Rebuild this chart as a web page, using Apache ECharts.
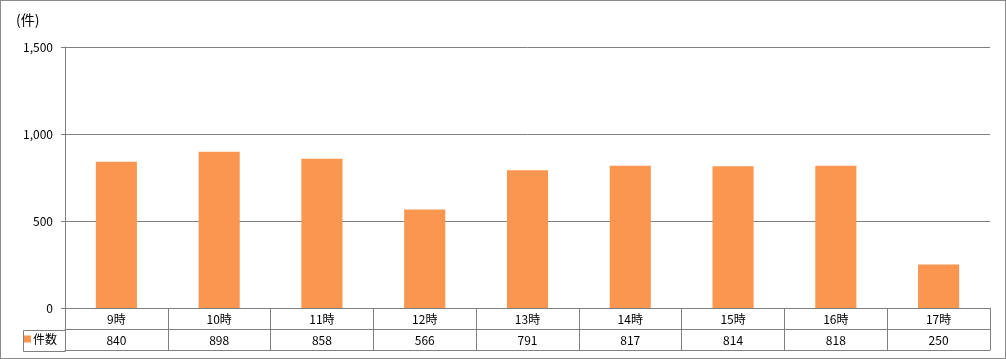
<!DOCTYPE html>
<html><head><meta charset="utf-8">
<script src="https://cdn.jsdelivr.net/npm/echarts@6/dist/echarts.min.js"></script>
<style>
html,body{margin:0;padding:0;background:#fff;}
#c{width:1004px;height:357px;border:1px solid #8a8a8a;}
</style></head><body>
<div id="c"></div>
<script>
const categories = ['9時','10時','11時','12時','13時','14時','15時','16時','17時'];
const counts = [840, 898, 858, 566, 791, 817, 814, 818, 250];
const seriesName = '件数';
const yTicks = [0, 500, 1000, 1500];

const font = '"Noto Sans CJK JP", "Liberation Sans", sans-serif';
const chart = echarts.init(document.getElementById('c'));
chart.setOption({
  animation: false,
  textStyle: {fontFamily: font},
  title: {text: '(件)', left: 10, top: 7, textStyle: {fontSize: 14, fontWeight: 'normal', color: '#000', fontFamily: font}},
  legend: {data: [seriesName], left: 23, top: 332, icon: 'rect', itemWidth: 7, itemHeight: 7, itemGap: 2,
    textStyle: {fontSize: 12, color: '#000', padding: [0,0,0,-3]}, padding: 0},
  grid: {left: 64, right: 15, top: 46, bottom: 50},
  xAxis: [
    {type: 'category', data: categories, position: 'bottom',
     axisLine: {lineStyle: {color: '#808080'}},
     axisTick: {show: true, length: 42, lineStyle: {color: '#808080'}},
     axisLabel: {color: '#000', fontSize: 12, margin: 5}},
    {type: 'category', data: counts.map(String), position: 'bottom', offset: 21,
     axisLine: {lineStyle: {color: '#808080'}}, axisTick: {show: false},
     axisLabel: {color: '#000', fontSize: 12, margin: 5}},
    {type: 'category', data: categories, position: 'bottom', offset: 42,
     axisLine: {lineStyle: {color: '#808080'}}, axisTick: {show: false}, axisLabel: {show: false}}
  ],
  yAxis: {type: 'value', min: 0, max: 1500, interval: 500,
    axisLine: {show: true, lineStyle: {color: '#808080'}},
    axisTick: {show: true, length: 4, lineStyle: {color: '#808080'}},
    splitLine: {lineStyle: {color: '#808080'}},
    axisLabel: {color: '#000', fontSize: 12, margin: 12,
      formatter: v => yTicks.includes(v) ? v.toLocaleString('en-US') : ''}},
  graphic: [{type: 'rect', shape: {x: 22.5, y: 329.5, width: 42, height: 21},
    style: {fill: 'none', stroke: '#808080', lineWidth: 1}, z: 10}],
  series: [{name: seriesName, type: 'bar', data: counts, barWidth: '40%', xAxisIndex: 0,
    itemStyle: {color: '#FA9650'}}]
});
</script></body></html>
